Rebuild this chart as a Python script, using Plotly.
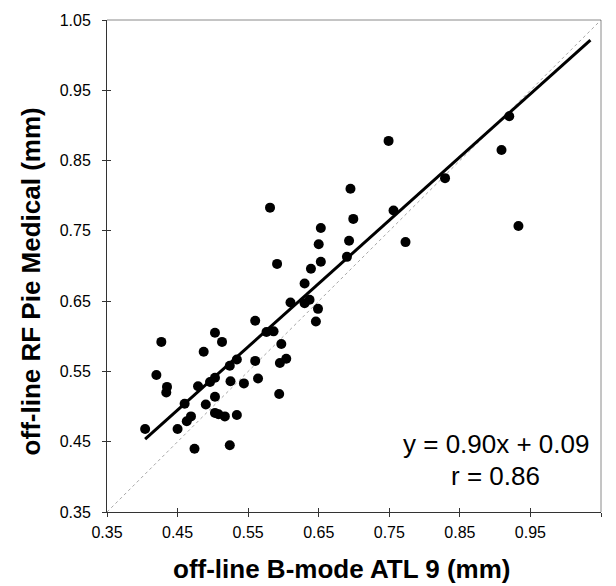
import plotly.graph_objects as go

# B-mode ATL 9 (x) vs RF Pie Medical (y), mm
x_bmode = [0.404, 0.420, 0.427, 0.435, 0.434, 0.450, 0.460, 0.463, 0.469, 0.474,
           0.479, 0.487, 0.490, 0.496, 0.503, 0.503, 0.503, 0.503, 0.508, 0.513,
           0.517, 0.524, 0.525, 0.524, 0.534, 0.534, 0.544, 0.560, 0.560, 0.564,
           0.576, 0.586, 0.581, 0.591, 0.597, 0.595, 0.604, 0.594, 0.610, 0.630,
           0.630, 0.637, 0.639, 0.646, 0.649, 0.650, 0.653, 0.653, 0.690, 0.693,
           0.695, 0.699, 0.749, 0.756, 0.773, 0.829, 0.909, 0.920, 0.933]
y_rf = [0.468, 0.545, 0.592, 0.528, 0.520, 0.468, 0.504, 0.479, 0.486, 0.440,
        0.529, 0.578, 0.503, 0.535, 0.605, 0.541, 0.514, 0.491, 0.489, 0.592,
        0.486, 0.558, 0.536, 0.445, 0.567, 0.488, 0.533, 0.622, 0.565, 0.540,
        0.606, 0.607, 0.783, 0.703, 0.589, 0.562, 0.568, 0.518, 0.648, 0.675,
        0.647, 0.652, 0.696, 0.621, 0.639, 0.731, 0.754, 0.706, 0.713, 0.736,
        0.810, 0.767, 0.878, 0.779, 0.734, 0.825, 0.865, 0.913, 0.757]

fit_slope = 0.90
fit_intercept = 0.09
fit_x = [0.404, 1.035]
fit_y = [fit_slope * v + fit_intercept for v in fit_x]
identity = [0.35, 1.05]

tick_vals = [0.35, 0.45, 0.55, 0.65, 0.75, 0.85, 0.95, 1.05]
tick_text = ["0.35", "0.45", "0.55", "0.65", "0.75", "0.85", "0.95", "1.05"]

x_title = "off-line B-mode ATL 9 (mm)"
y_title = "off-line RF Pie Medical (mm)"
eq_line1 = "y = 0.90x + 0.09"
eq_line2 = "r = 0.86"

FONT = "Liberation Sans, Arial, sans-serif"

fig = go.Figure()
fig.add_trace(go.Scatter(x=identity, y=identity, mode="lines",
                         line=dict(color="#a8a8a8", width=1, dash="dot"),
                         hoverinfo="skip", showlegend=False))
fig.add_trace(go.Scatter(x=fit_x, y=fit_y, mode="lines",
                         line=dict(color="black", width=3),
                         showlegend=False))
fig.add_trace(go.Scatter(x=x_bmode, y=y_rf, mode="markers",
                         marker=dict(color="black", size=10),
                         showlegend=False))

axis_common = dict(range=[0.35, 1.05], tickvals=tick_vals, ticktext=tick_text,
                   showgrid=False, zeroline=False, ticklen=4, tickwidth=1,
                   tickcolor="#333")

fig.update_layout(
    width=616, height=586,
    margin=dict(l=107, r=15, t=17, b=74),
    plot_bgcolor="white", paper_bgcolor="white",
    font=dict(family=FONT, color="black", size=16),
    xaxis=dict(**axis_common, ticks="outside", showline=True, linecolor="#333",
               linewidth=1, tickfont=dict(size=16), ticklabelstandoff=2),
    yaxis=dict(**axis_common, ticks="outside", showline=True, linecolor="#333",
               linewidth=1, tickfont=dict(size=16), ticklabelstandoff=8),
    xaxis2=dict(**axis_common, ticks="inside", overlaying="x", anchor="y",
                showticklabels=False, showline=False),
    yaxis2=dict(**axis_common, ticks="inside", overlaying="y", anchor="x",
                showticklabels=False, showline=False),
    shapes=[
        dict(type="line", xref="paper", yref="paper", x0=0, x1=1, y0=1, y1=1,
             line=dict(color="#8a8a8a", width=1)),
        dict(type="line", xref="paper", yref="paper", x0=1, x1=1, y0=0, y1=1,
             line=dict(color="#8a8a8a", width=1)),
    ],
    annotations=[
        dict(text="<b>" + x_title + "</b>", xref="paper", yref="paper",
             x=(342 - 107) / 494, y=(512 - 569) / 495, xanchor="center",
             yanchor="middle", showarrow=False, font=dict(size=26, family=FONT)),
        dict(text="<b>" + y_title + "</b>", xref="paper", yref="paper",
             x=(31 - 107) / 494, y=(512 - 280) / 495, xanchor="center",
             yanchor="middle", textangle=-90, showarrow=False,
             font=dict(size=26, family=FONT)),
        dict(text=eq_line1, xref="paper", yref="paper", x=0.787,
             y=(512 - 444) / 495, xanchor="center", yanchor="middle",
             showarrow=False, font=dict(size=26, family=FONT)),
        dict(text=eq_line2, xref="paper", yref="paper", x=0.787,
             y=(512 - 476) / 495, xanchor="center", yanchor="middle",
             showarrow=False, font=dict(size=26, family=FONT)),
    ],
)
# invisible trace to activate overlay axes
fig.add_trace(go.Scatter(x=[None], y=[None], xaxis="x2", yaxis="y2",
                         showlegend=False, hoverinfo="skip"))

fig.write_html("out.html",
               config={"displayModeBar": False},
               post_script="document.body.style.margin='0px';"
                           "document.body.style.overflow='hidden';")
